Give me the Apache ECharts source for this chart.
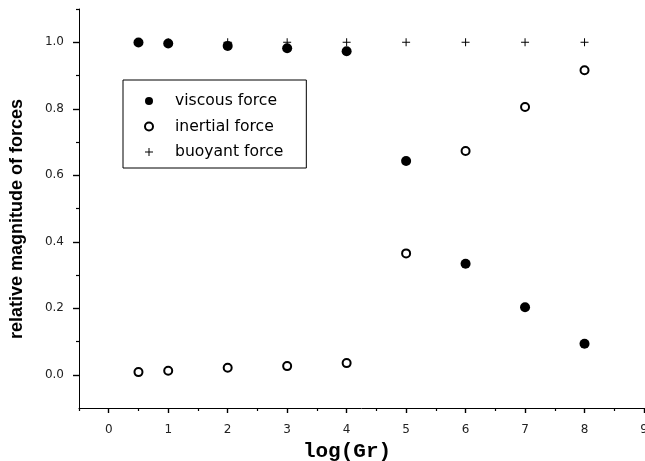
<!DOCTYPE html>
<html>
<head>
<meta charset="utf-8">
<script src="https://cdn.jsdelivr.net/npm/echarts@6/dist/echarts.min.js"></script>
<style>
  html, body { margin: 0; padding: 0; background: #fff; }
  #main { width: 645px; height: 461px; }
</style>
</head>
<body>
<div id="main"></div>
<script>
// values
const logGr = [0.5, 1, 2, 3, 4, 5, 6, 7, 8]
const viscous = [0.999, 0.996, 0.989, 0.982, 0.973, 0.643, 0.334, 0.203, 0.093]
const inertial = [0.008, 0.012, 0.021, 0.026, 0.035, 0.365, 0.673, 0.805, 0.916]
const buoyant = [1.0, 1.0, 1.0, 1.0, 1.0, 1.0, 1.0, 1.0, 1.0]

const xMajor = [0, 1, 2, 3, 4, 5, 6, 7, 8, 9]
const xMinor = [-0.5, 0.5, 1.5, 2.5, 3.5, 4.5, 5.5, 6.5, 7.5, 8.5]
const yMajor = [0, 0.2, 0.4, 0.6, 0.8, 1.0]
const yMinor = [0.1, 0.3, 0.5, 0.7, 0.9, 1.1]

const pair = (ys) => logGr.map((x, i) => [x, ys[i]])
const plus = 'path://M0,3.5H8V4.5H0Z M3.5,0H4.5V8H3.5Z'

const chart = echarts.init(document.getElementById('main'))

const axisFont = { fontFamily: 'DejaVu Sans', fontSize: 12, color: '#222' }

// an extra axis that only draws ticks at the given values
function tickAxis(min, max, pos, values, len, w) {
  return {
    type: 'value',
    min: min,
    max: max,
    position: pos,
    splitLine: { show: false },
    axisLine: { show: false, onZero: false },
    axisTick: { show: true, customValues: values, length: len, lineStyle: { color: '#000', width: w } },
    axisLabel: { show: false }
  }
}

const option = {
  animation: false,
  grid: { left: 79, right: 1, top: 9, bottom: 53, outerBoundsMode: 'none' },
  legend: {
    orient: 'vertical',
    left: 123,
    top: 80,
    padding: [13, 23, 8, 21],
    itemWidth: 12,
    itemHeight: 8,
    itemGap: 9.5,
    borderColor: '#000',
    borderWidth: 1,
    textStyle: { fontFamily: 'DejaVu Sans', fontSize: 15.6, color: '#000', padding: [0, 0, 0, 15] },
    data: ['viscous force', 'inertial force', 'buoyant force']
  },
  xAxis: [{
    type: 'value',
    min: -0.5,
    max: 9,
    name: 'log(Gr)',
    nameLocation: 'middle',
    nameGap: 31,
    nameTextStyle: { fontFamily: 'Liberation Mono', fontWeight: 'bold', fontSize: 21, color: '#000', padding: [0, 29, 0, 0] },
    splitLine: { show: false },
    axisLine: { show: true, onZero: false, lineStyle: { color: '#000', width: 1 } },
    axisTick: { show: false },
    axisLabel: Object.assign({ customValues: xMajor, margin: 16 }, axisFont)
  },
    tickAxis(-0.5, 9, 'bottom', xMajor, 5, 1.4),
    tickAxis(-0.5, 9, 'bottom', xMinor, 3, 1.2)
  ],
  yAxis: [{
    type: 'value',
    min: -0.1,
    max: 1.1,
    name: 'relative magnitude of forces',
    nameLocation: 'middle',
    nameGap: 53,
    nameRotate: 90,
    nameTextStyle: { fontFamily: 'Liberation Sans', fontWeight: 'bold', fontSize: 18, color: '#000', padding: [0, 21, 0, 0] },
    splitLine: { show: false },
    axisLine: { show: true, onZero: false, lineStyle: { color: '#000', width: 1 } },
    axisTick: { show: false },
    axisLabel: Object.assign({ customValues: yMajor, margin: 15, formatter: v => v.toFixed(1) }, axisFont)
  },
    tickAxis(-0.1, 1.1, 'left', yMajor, 6, 1.4),
    tickAxis(-0.1, 1.1, 'left', yMinor, 3, 1.2)
  ],
  series: [
    {
      name: 'buoyant force',
      type: 'scatter',
      symbol: plus,
      symbolSize: 8,
      itemStyle: { color: '#000', opacity: 1 },
      data: pair(buoyant),
      z: 1
    },
    {
      name: 'inertial force',
      type: 'scatter',
      symbol: 'emptyCircle',
      symbolSize: 8,
      itemStyle: { color: '#000', borderColor: '#000', borderWidth: 1.3, opacity: 1 },
      data: pair(inertial),
      z: 2
    },
    {
      name: 'viscous force',
      type: 'scatter',
      symbol: 'circle',
      symbolSize: 10,
      itemStyle: { color: '#000', opacity: 1 },
      data: pair(viscous),
      z: 3
    }
  ]
}

chart.setOption(option)
</script>
</body>
</html>
